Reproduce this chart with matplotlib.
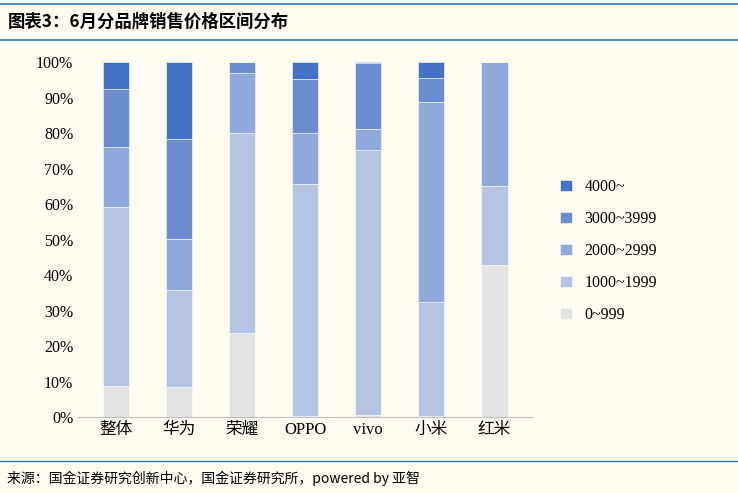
import matplotlib
matplotlib.use("Agg")
import matplotlib.pyplot as plt
from matplotlib.lines import Line2D

plt.rcParams["font.family"] = ["Noto Sans CJK SC"]

categories = ["整体", "华为", "荣耀", "OPPO", "vivo", "小米", "红米"]
series_names = ["0~999", "1000~1999", "2000~2999", "3000~3999", "4000~"]
s0 = [8.7, 8.5, 23.7, 0.3, 0.5, 0.3, 42.8]
s1 = [50.5, 27.3, 56.3, 65.3, 74.7, 32.1, 22.3]
s2 = [16.8, 14.3, 16.9, 14.4, 5.9, 56.3, 34.9]
s3 = [16.4, 28.2, 3.1, 15.2, 18.6, 6.8, 0.0]
s4 = [7.6, 21.7, 0.0, 4.8, 0.3, 4.5, 0.0]
colors = ["#E3E3E3", "#B4C4E2", "#8EA9DB", "#6A8DD0", "#4472C4"]
yticks = list(range(0, 101, 10))

bg = "#FFFCF2"
fig = plt.figure(figsize=(7.38, 4.93), dpi=100, facecolor=bg)
ax = fig.add_axes([0.106, 0.154, 0.615, 0.72], facecolor=bg)

bottom = [0.0] * len(categories)
for name, vals, c in zip(series_names, [s0, s1, s2, s3, s4], colors):
    ax.bar(categories, vals, bottom=bottom, width=0.42, color=c, label=name,
           edgecolor="white", linewidth=0.4)
    bottom = [b + v for b, v in zip(bottom, vals)]

ax.set_ylim(0, 100)
ax.set_xlim(-0.6, 6.6)
ax.set_yticks(yticks)
ax.set_yticklabels([f"{t}%" for t in yticks], fontfamily="Liberation Serif", fontsize=11.5)
for lbl in ax.get_xticklabels():
    lbl.set_fontsize(12)
    lbl.set_fontfamily(["Liberation Serif", "Noto Sans CJK SC"])
for s in ["top", "right", "left"]:
    ax.spines[s].set_visible(False)
ax.spines["bottom"].set_color("#BFBFBF")
ax.tick_params(length=0)

h, l = ax.get_legend_handles_labels()
leg = fig.legend(h[::-1], l[::-1], loc="center left", bbox_to_anchor=(0.74, 0.49),
                 frameon=False, handlelength=0.7, handleheight=0.7, labelspacing=1.0,
                 prop={"family": "Liberation Serif", "size": 11.5})

# title bar
fig.add_artist(Line2D([0.0, 1.0], [0.992, 0.992], color="#2E74B5", lw=1.2))
fig.add_artist(Line2D([0.0, 1.0], [0.918, 0.918], color="#2E74B5", lw=1.2))
fig.text(0.01, 0.955, "图表3：6月分品牌销售价格区间分布", fontsize=12.5, fontweight="bold",
         fontstyle="italic", va="center", color="#000000")
fig.add_artist(Line2D([0.0, 1.0], [0.065, 0.065], color="#2E74B5", lw=1.0))
fig.text(0.01, 0.03, "来源：国金证券研究创新中心，国金证券研究所，powered by 亚智", fontsize=10,
         va="center")

fig.savefig("out.png", dpi=100, facecolor=bg)
